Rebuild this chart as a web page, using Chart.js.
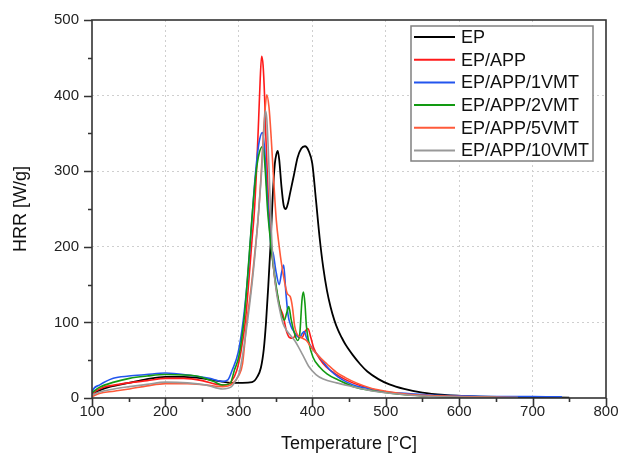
<!DOCTYPE html>
<html>
<head>
<meta charset="utf-8">
<script src="https://cdn.jsdelivr.net/npm/chart.js@4.4.0/dist/chart.umd.min.js"></script>
<style>
  html, body { margin: 0; padding: 0; background: #fff; }
  #c { display: block; }
</style>
</head>
<body>
<canvas id="c" width="620" height="455"></canvas>
<script>
// ---- Data (temperature in °C, HRR in W/g) ----
const seriesLabels = ["EP", "EP/APP", "EP/APP/1VMT", "EP/APP/2VMT", "EP/APP/5VMT", "EP/APP/10VMT"];
const seriesColors = ["#000000", "#ff1a1a", "#2255ee", "#129a12", "#ff5a3a", "#999999"];

const epT = [100,110,125,150,175,200,225,250,275,290,305,318,325,330,334,337,340,343,346,349,351,353,355,358,361,364,367,370,375,380,385,390,395,400,405,410,415,420,425,430,435,440,445,455,465,475,490,505,525,550,580,620,680,750];
const epY = [5,10,15,20,25,28,28,26,22,20,20,21,28,40,65,100,147,200,265,310,322,327,315,280,255,250,258,272,295,318,330,333,327,310,262,212,172,142,120,103,90,80,71,57,45,35,25,18,12,7,4,2,1,0.5];

const appT = [100,105,115,130,150,175,200,225,250,270,280,290,297,303,309,314,318,321,324,327,329,331,333,335,337,340,344,348,352,356,360,365,369,374,378,382,386,390,394,398,402,410,419,430,442,455,470,490,515,550,600,660];
const appY = [3,9,14,17,20,23,26,26,23,18,17,22,36,62,103,160,210,245,300,370,420,452,440,400,340,265,205,165,138,120,110,88,80,79,85,80,80,88,92,80,66,52,41,33,26,20,15,10,6,3,1.5,0.5];

const vmt1T = [100,101,110,129,150,174,200,233,260,278,285,291,299,306,312,317,322,327,332,335,338,341,344,347,351,355,358,361,364,367,371,375,379,383,386,389,392,396,402,410,417,424,435,447,460,480,500,530,560,600,650,700,740];
const vmt1Y = [6,10,17,26,29,31,33,30,26,22,24,37,60,103,160,225,290,335,351,330,280,235,200,190,165,150,165,176,140,110,95,88,82,80,85,88,80,72,63,54,45,37,28,21,16,12,8,6,4,3,2,2,1.5];

const vmt2T = [100,110,130,151,175,200,242,265,278,288,294,300,307,313,318,323,328,333,336,339,342,345,349,353,357,362,365,368,371,375,380,383,386,388,390,392,395,401,410,420,435,456,480,510,550,600,650];
const vmt2Y = [7,14,21,26,29,31,29,22,17,19,37,55,103,175,240,295,325,333,300,250,218,190,160,135,115,103,112,121,105,88,76,85,130,140,125,95,75,54,41,32,24,15,10,6,3,1.5,0.5];

const vmt5T = [100,110,130,151,175,200,230,256,278,290,300,305,311,316,321,326,330,333,336,338,341,344,347,351,355,358,362,366,370,373,376,379,385,392,400,410,420,433,445,460,480,500,530,570,620,680];
const vmt5Y = [2,6,9,12,16,19,19,17,15,18,30,45,103,140,185,235,290,342,385,401,385,345,295,235,200,178,155,138,134,120,95,85,80,76,65,54,45,34,27,20,13,9,5,3,1.5,0.5];

const vmt10T = [100,110,130,151,175,200,230,256,278,290,295,301,312,320,326,331,334,336,338,340,342,345,348,352,356,360,366,371,376,382,388,395,405,415,433,455,478,500,530,570,620,680];
const vmt10Y = [4,8,12,15,18,21,20,17,12,15,22,35,103,170,235,300,350,380,370,330,280,205,165,135,115,99,88,82,76,66,55,42,31,25,20,15,10,7,4,2,1,0.5];

const seriesT = [epT, appT, vmt1T, vmt2T, vmt5T, vmt10T];
const seriesY = [epY, appY, vmt1Y, vmt2Y, vmt5Y, vmt10Y];

const xTitle = "Temperature [°C]";
const yTitle = "HRR [W/g]";
const FONT = "'Liberation Sans', Arial, Helvetica, sans-serif";

const datasets = seriesLabels.map((lab, i) => ({
  label: lab,
  data: seriesT[i].map((t, k) => ({ x: t, y: seriesY[i][k] })),
  borderColor: seriesColors[i],
  backgroundColor: seriesColors[i],
  borderWidth: i === 0 ? 1.8 : 1.6,
  pointRadius: 0,
  fill: false,
  cubicInterpolationMode: 'monotone',
  order: seriesLabels.length - i
}));

const framePlugin = {
  id: 'framePlugin',
  afterDraw(chart) {
    const { ctx, chartArea: a, scales: { x, y } } = chart;
    ctx.save();
    ctx.strokeStyle = '#333';
    ctx.lineWidth = 1.6;
    ctx.strokeRect(a.left, a.top, a.right - a.left, a.bottom - a.top);
    ctx.beginPath();
    x.ticks.forEach(t => {
      const px = Math.round(x.getPixelForValue(t.value)) + 0.5;
      const len = t.value % 100 === 0 ? 8 : 4;
      ctx.moveTo(px, a.bottom);
      ctx.lineTo(px, a.bottom + len);
    });
    y.ticks.forEach(t => {
      const py = Math.round(y.getPixelForValue(t.value)) + 0.5;
      const len = t.value % 100 === 0 ? 8 : 4;
      ctx.moveTo(a.left, py);
      ctx.lineTo(a.left - len, py);
    });
    ctx.stroke();

    // legend box
    const bx = a.right - 195, by = a.top + 6, bw = 182, bh = 135;
    ctx.fillStyle = '#fff';
    ctx.fillRect(bx, by, bw, bh);
    ctx.strokeStyle = '#808080';
    ctx.lineWidth = 1.5;
    ctx.strokeRect(bx, by, bw, bh);
    ctx.font = '18px ' + FONT;
    ctx.textBaseline = 'middle';
    ctx.textAlign = 'left';
    chart.data.datasets.forEach((ds, i) => {
      const ry = by + 11 + i * 22.7;
      ctx.strokeStyle = ds.borderColor;
      ctx.lineWidth = 2;
      ctx.beginPath();
      ctx.moveTo(bx + 3, ry);
      ctx.lineTo(bx + 44, ry);
      ctx.stroke();
      ctx.fillStyle = '#111';
      ctx.fillText(ds.label, bx + 50, ry + 1);
    });
    ctx.restore();
  }
};

new Chart(document.getElementById('c'), {
  type: 'line',
  data: { datasets },
  plugins: [framePlugin],
  options: {
    responsive: false,
    devicePixelRatio: 1,
    animation: false,
    layout: { padding: { left: 0, top: 20, right: 14, bottom: 0 } },
    plugins: { legend: { display: false }, tooltip: { enabled: false } },
    scales: {
      x: {
        type: 'linear',
        min: 100, max: 800,
        afterFit: s => { s.height = 57; s.paddingRight = 0; s.paddingLeft = 0; },
        border: { display: false, dash: [2, 3] },
        grid: {
          drawTicks: false,
          lineWidth: 1,
          color: c => (c.tick && c.tick.value % 100 === 0 && c.tick.value > 100 && c.tick.value < 800) ? '#cfcfcf' : 'rgba(0,0,0,0)'
        },
        ticks: {
          stepSize: 50, autoSkip: false, maxRotation: 0, padding: 5,
          color: '#222', font: { family: FONT, size: 15 },
          callback: v => (v % 100 === 0 ? String(v) : '')
        },
        title: { display: true, text: xTitle, color: '#111', font: { family: FONT, size: 18 }, padding: { top: 0, bottom: 0 } }
      },
      y: {
        type: 'linear',
        min: 0, max: 500,
        afterFit: s => { s.width = 92; s.paddingTop = 0; s.paddingBottom = 0; },
        border: { display: false, dash: [2, 3] },
        grid: {
          drawTicks: false,
          lineWidth: 1,
          color: c => (c.tick && c.tick.value % 100 === 0 && c.tick.value > 0 && c.tick.value < 500) ? '#cfcfcf' : 'rgba(0,0,0,0)'
        },
        ticks: {
          stepSize: 50, autoSkip: false, padding: 13,
          color: '#222', font: { family: FONT, size: 15 },
          callback: v => (v % 100 === 0 ? String(v) : '')
        },
        title: { display: true, text: yTitle, color: '#111', font: { family: FONT, size: 18 }, padding: { top: 10, bottom: 0 } }
      }
    }
  }
});
</script>
</body>
</html>
